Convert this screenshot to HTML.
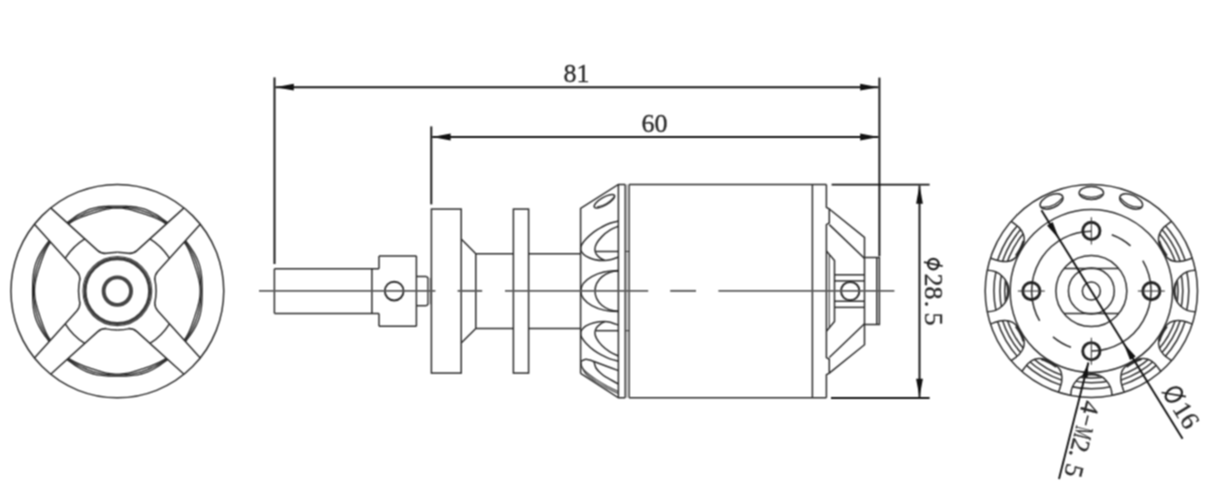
<!DOCTYPE html>
<html lang="en">
<head>
<meta charset="utf-8">
<title>Motor outline drawing</title>
<style>
html,body{margin:0;padding:0;background:#fff;}
body{width:1223px;height:501px;overflow:hidden;font-family:"Liberation Serif",serif;}
svg{display:block;}
.s{fill:none;stroke:#2b2b2b;stroke-width:1.5;stroke-linecap:butt;stroke-linejoin:miter;}
.t{fill:none;stroke:#3a3a3a;stroke-width:1.1;}
.k{fill:none;stroke:#2a2a2a;stroke-width:2.5;}
.w{fill:#fff;stroke:none;}
.c{fill:none;stroke:#5a5a5a;stroke-width:1.9;}
.d{fill:none;stroke:#141414;stroke-width:1.95;}
.a{fill:#111;stroke:none;}
.g{fill:#b8b8b8;stroke:none;}
text{font-family:"Liberation Serif",serif;font-size:26px;fill:#2a2a2a;stroke:#2a2a2a;stroke-width:0.35;}
</style>
</head>
<body>
<svg width="1223" height="501" viewBox="0 0 1223 501">
<defs><filter id="soft" x="0" y="0" width="100%" height="100%" color-interpolation-filters="sRGB"><feConvolveMatrix order="3" kernelMatrix="1 2 1 2 4 2 1 2 1" divisor="16" edgeMode="duplicate" preserveAlpha="false"/></filter></defs>
<g filter="url(#soft)">
<rect x="0" y="0" width="1223" height="501" fill="#ffffff"/>
<g id="left-view" transform="translate(0,-0.87) scale(1,1.003)">
<path class="t" d="M202.12,291.1 C202.12,292.58 202.11,294.06 202.08,295.54 C202.06,297.02 202.03,298.51 201.97,299.99 C201.9,301.48 201.83,302.97 201.7,304.46 C201.58,305.95 201.43,307.44 201.21,308.92 C200.99,310.41 200.74,311.89 200.41,313.35 C200.08,314.82 199.69,316.28 199.23,317.71 C198.78,319.14 198.26,320.55 197.68,321.93 C197.1,323.32 196.45,324.68 195.76,326.01 C195.07,327.34 194.32,328.64 193.55,329.92 C192.77,331.2 191.95,332.45 191.12,333.69 C190.29,334.93 189.43,336.14 188.56,337.35 C187.7,338.55 186.82,339.75 185.93,340.93 C185.05,342.11 184.16,343.3 183.23,344.44 C182.29,345.59 181.33,346.72 180.34,347.82 C179.35,348.92 178.33,349.99 177.29,351.04 C176.24,352.08 175.17,353.1 174.07,354.09 C172.97,355.08 171.84,356.04 170.69,356.98 C169.55,357.91 168.36,358.8 167.18,359.68 C166,360.57 164.8,361.45 163.6,362.31 C162.39,363.18 161.18,364.04 159.94,364.87 C158.7,365.7 157.45,366.52 156.17,367.3 C154.89,368.07 153.59,368.82 152.26,369.51 C150.93,370.2 149.57,370.85 148.18,371.43 C146.8,372.01 145.39,372.53 143.96,372.98 C142.53,373.44 141.07,373.83 139.6,374.16 C138.14,374.49 136.66,374.74 135.17,374.96 C133.69,375.18 132.2,375.33 130.71,375.45 C129.22,375.58 127.73,375.65 126.24,375.72 C124.76,375.78 123.27,375.81 121.79,375.83 C120.31,375.86 118.83,375.87 117.35,375.87 C115.87,375.87 114.39,375.86 112.91,375.83 C111.43,375.81 109.94,375.78 108.46,375.72 C106.97,375.65 105.48,375.58 103.99,375.45 C102.5,375.33 101.01,375.18 99.53,374.96 C98.04,374.74 96.56,374.49 95.1,374.16 C93.63,373.83 92.17,373.44 90.74,372.98 C89.31,372.53 87.9,372.01 86.52,371.43 C85.13,370.85 83.77,370.2 82.44,369.51 C81.11,368.82 79.81,368.07 78.53,367.3 C77.25,366.52 76,365.7 74.76,364.87 C73.52,364.04 72.31,363.18 71.1,362.31 C69.9,361.45 68.7,360.57 67.52,359.68 C66.34,358.8 65.15,357.91 64.01,356.98 C62.86,356.04 61.73,355.08 60.63,354.09 C59.53,353.1 58.46,352.08 57.41,351.04 C56.37,349.99 55.35,348.92 54.36,347.82 C53.37,346.72 52.41,345.59 51.47,344.44 C50.54,343.3 49.65,342.11 48.77,340.93 C47.88,339.75 47,338.55 46.14,337.35 C45.27,336.14 44.41,334.93 43.58,333.69 C42.75,332.45 41.93,331.2 41.15,329.92 C40.38,328.64 39.63,327.34 38.94,326.01 C38.25,324.68 37.6,323.32 37.02,321.93 C36.44,320.55 35.92,319.14 35.47,317.71 C35.01,316.28 34.62,314.82 34.29,313.35 C33.96,311.89 33.71,310.41 33.49,308.92 C33.27,307.44 33.12,305.95 33,304.46 C32.87,302.97 32.8,301.48 32.73,299.99 C32.67,298.51 32.64,297.02 32.62,295.54 C32.59,294.06 32.58,292.58 32.58,291.1 C32.58,289.62 32.59,288.14 32.62,286.66 C32.64,285.18 32.67,283.69 32.73,282.21 C32.8,280.72 32.87,279.23 33,277.74 C33.12,276.25 33.27,274.76 33.49,273.28 C33.71,271.79 33.96,270.31 34.29,268.85 C34.62,267.38 35.01,265.92 35.47,264.49 C35.92,263.06 36.44,261.65 37.02,260.27 C37.6,258.88 38.25,257.52 38.94,256.19 C39.63,254.86 40.38,253.56 41.15,252.28 C41.93,251 42.75,249.75 43.58,248.51 C44.41,247.27 45.27,246.06 46.14,244.85 C47,243.65 47.88,242.45 48.77,241.27 C49.65,240.09 50.54,238.9 51.47,237.76 C52.41,236.61 53.37,235.48 54.36,234.38 C55.35,233.28 56.37,232.21 57.41,231.16 C58.46,230.12 59.53,229.1 60.63,228.11 C61.73,227.12 62.86,226.16 64.01,225.22 C65.15,224.29 66.34,223.4 67.52,222.52 C68.7,221.63 69.9,220.75 71.1,219.89 C72.31,219.02 73.52,218.16 74.76,217.33 C76,216.5 77.25,215.68 78.53,214.9 C79.81,214.13 81.11,213.38 82.44,212.69 C83.77,212 85.13,211.35 86.52,210.77 C87.9,210.19 89.31,209.67 90.74,209.22 C92.17,208.76 93.63,208.37 95.1,208.04 C96.56,207.71 98.04,207.46 99.53,207.24 C101.01,207.02 102.5,206.87 103.99,206.75 C105.48,206.62 106.97,206.55 108.46,206.48 C109.94,206.42 111.43,206.39 112.91,206.37 C114.39,206.34 115.87,206.33 117.35,206.33 C118.83,206.33 120.31,206.34 121.79,206.37 C123.27,206.39 124.76,206.42 126.24,206.48 C127.73,206.55 129.22,206.62 130.71,206.75 C132.2,206.87 133.69,207.02 135.17,207.24 C136.66,207.46 138.14,207.71 139.6,208.04 C141.07,208.37 142.53,208.76 143.96,209.22 C145.39,209.67 146.8,210.19 148.18,210.77 C149.57,211.35 150.93,212 152.26,212.69 C153.59,213.38 154.89,214.13 156.17,214.9 C157.45,215.68 158.7,216.5 159.94,217.33 C161.18,218.16 162.39,219.02 163.6,219.89 C164.8,220.75 166,221.63 167.18,222.52 C168.36,223.4 169.55,224.29 170.69,225.22 C171.84,226.16 172.97,227.12 174.07,228.11 C175.17,229.1 176.24,230.12 177.29,231.16 C178.33,232.21 179.35,233.28 180.34,234.38 C181.33,235.48 182.29,236.61 183.23,237.76 C184.16,238.9 185.05,240.09 185.93,241.27 C186.82,242.45 187.7,243.65 188.56,244.85 C189.43,246.06 190.29,247.27 191.12,248.51 C191.95,249.75 192.77,251 193.55,252.28 C194.32,253.56 195.07,254.86 195.76,256.19 C196.45,257.52 197.1,258.88 197.68,260.27 C198.26,261.65 198.78,263.06 199.23,264.49 C199.69,265.92 200.08,267.38 200.41,268.85 C200.74,270.31 200.99,271.79 201.21,273.28 C201.43,274.76 201.58,276.25 201.7,277.74 C201.83,279.23 201.9,280.72 201.97,282.21 C202.03,283.69 202.06,285.18 202.08,286.66 C202.11,288.14 202.12,289.62 202.12,291.1Z" style="stroke-width:1.3;stroke:#262626"/>
<path class="t" d="M201.15,291.1 C201.15,292.56 201.11,294.03 201.04,295.49 C200.96,296.95 200.84,298.41 200.69,299.86 C200.54,301.31 200.35,302.77 200.12,304.21 C199.89,305.65 199.62,307.09 199.32,308.52 C199.01,309.95 198.67,311.38 198.29,312.79 C197.92,314.2 197.5,315.61 197.05,317 C196.6,318.39 196.11,319.77 195.58,321.13 C195.06,322.5 194.5,323.85 193.91,325.18 C193.31,326.52 192.68,327.84 192.02,329.14 C191.35,330.45 190.65,331.73 189.92,333 C189.19,334.27 188.43,335.51 187.63,336.74 C186.83,337.97 186,339.17 185.15,340.36 C184.29,341.54 183.39,342.7 182.47,343.84 C181.55,344.97 180.6,346.09 179.63,347.17 C178.65,348.26 177.64,349.32 176.61,350.36 C175.57,351.39 174.51,352.4 173.42,353.38 C172.34,354.35 171.22,355.3 170.09,356.22 C168.95,357.14 167.79,358.04 166.61,358.9 C165.42,359.75 164.22,360.58 162.99,361.38 C161.76,362.18 160.52,362.94 159.25,363.67 C157.98,364.4 156.7,365.1 155.39,365.77 C154.09,366.43 152.77,367.06 151.43,367.66 C150.1,368.25 148.75,368.81 147.38,369.33 C146.02,369.86 144.64,370.35 143.25,370.8 C141.86,371.25 140.45,371.67 139.04,372.04 C137.63,372.42 136.2,372.76 134.77,373.07 C133.34,373.37 131.9,373.64 130.46,373.87 C129.02,374.1 127.56,374.29 126.11,374.44 C124.66,374.59 123.2,374.71 121.74,374.79 C120.28,374.86 118.81,374.9 117.35,374.9 C115.89,374.9 114.42,374.86 112.96,374.79 C111.5,374.71 110.04,374.59 108.59,374.44 C107.14,374.29 105.68,374.1 104.24,373.87 C102.8,373.64 101.36,373.37 99.93,373.07 C98.5,372.76 97.07,372.42 95.66,372.04 C94.25,371.67 92.84,371.25 91.45,370.8 C90.06,370.35 88.68,369.86 87.32,369.33 C85.95,368.81 84.6,368.25 83.27,367.66 C81.93,367.06 80.61,366.43 79.31,365.77 C78,365.1 76.72,364.4 75.45,363.67 C74.18,362.94 72.94,362.18 71.71,361.38 C70.48,360.58 69.28,359.75 68.09,358.9 C66.91,358.04 65.75,357.14 64.61,356.22 C63.48,355.3 62.36,354.35 61.28,353.38 C60.19,352.4 59.13,351.39 58.09,350.36 C57.06,349.32 56.05,348.26 55.07,347.17 C54.1,346.09 53.15,344.97 52.23,343.84 C51.31,342.7 50.41,341.54 49.55,340.36 C48.7,339.17 47.87,337.97 47.07,336.74 C46.27,335.51 45.51,334.27 44.78,333 C44.05,331.73 43.35,330.45 42.68,329.14 C42.02,327.84 41.39,326.52 40.79,325.18 C40.2,323.85 39.64,322.5 39.12,321.13 C38.59,319.77 38.1,318.39 37.65,317 C37.2,315.61 36.78,314.2 36.41,312.79 C36.03,311.38 35.69,309.95 35.38,308.52 C35.08,307.09 34.81,305.65 34.58,304.21 C34.35,302.77 34.16,301.31 34.01,299.86 C33.86,298.41 33.74,296.95 33.66,295.49 C33.59,294.03 33.55,292.56 33.55,291.1 C33.55,289.64 33.59,288.17 33.66,286.71 C33.74,285.25 33.86,283.79 34.01,282.34 C34.16,280.89 34.35,279.43 34.58,277.99 C34.81,276.55 35.08,275.11 35.38,273.68 C35.69,272.25 36.03,270.82 36.41,269.41 C36.78,268 37.2,266.59 37.65,265.2 C38.1,263.81 38.59,262.43 39.12,261.07 C39.64,259.7 40.2,258.35 40.79,257.02 C41.39,255.68 42.02,254.36 42.68,253.06 C43.35,251.75 44.05,250.47 44.78,249.2 C45.51,247.93 46.27,246.69 47.07,245.46 C47.87,244.23 48.7,243.03 49.55,241.84 C50.41,240.66 51.31,239.5 52.23,238.36 C53.15,237.23 54.1,236.11 55.07,235.03 C56.05,233.94 57.06,232.88 58.09,231.84 C59.13,230.81 60.19,229.8 61.28,228.82 C62.36,227.85 63.48,226.9 64.61,225.98 C65.75,225.06 66.91,224.16 68.09,223.3 C69.28,222.45 70.48,221.62 71.71,220.82 C72.94,220.02 74.18,219.26 75.45,218.53 C76.72,217.8 78,217.1 79.31,216.43 C80.61,215.77 81.93,215.14 83.27,214.54 C84.6,213.95 85.95,213.39 87.32,212.87 C88.68,212.34 90.06,211.85 91.45,211.4 C92.84,210.95 94.25,210.53 95.66,210.16 C97.07,209.78 98.5,209.44 99.93,209.13 C101.36,208.83 102.8,208.56 104.24,208.33 C105.68,208.1 107.14,207.91 108.59,207.76 C110.04,207.61 111.5,207.49 112.96,207.41 C114.42,207.34 115.89,207.3 117.35,207.3 C118.81,207.3 120.28,207.34 121.74,207.41 C123.2,207.49 124.66,207.61 126.11,207.76 C127.56,207.91 129.02,208.1 130.46,208.33 C131.9,208.56 133.34,208.83 134.77,209.13 C136.2,209.44 137.63,209.78 139.04,210.16 C140.45,210.53 141.86,210.95 143.25,211.4 C144.64,211.85 146.02,212.34 147.38,212.87 C148.75,213.39 150.1,213.95 151.43,214.54 C152.77,215.14 154.09,215.77 155.39,216.43 C156.7,217.1 157.98,217.8 159.25,218.53 C160.52,219.26 161.76,220.02 162.99,220.82 C164.22,221.62 165.42,222.45 166.61,223.3 C167.79,224.16 168.95,225.06 170.09,225.98 C171.22,226.9 172.34,227.85 173.42,228.82 C174.51,229.8 175.57,230.81 176.61,231.84 C177.64,232.88 178.65,233.94 179.63,235.03 C180.6,236.11 181.55,237.23 182.47,238.36 C183.39,239.5 184.29,240.66 185.15,241.84 C186,243.03 186.83,244.23 187.63,245.46 C188.43,246.69 189.19,247.93 189.92,249.2 C190.65,250.47 191.35,251.75 192.02,253.06 C192.68,254.36 193.31,255.68 193.91,257.02 C194.5,258.35 195.06,259.7 195.58,261.07 C196.11,262.43 196.6,263.81 197.05,265.2 C197.5,266.59 197.92,268 198.29,269.41 C198.67,270.82 199.01,272.25 199.32,273.68 C199.62,275.11 199.89,276.55 200.12,277.99 C200.35,279.43 200.54,280.89 200.69,282.34 C200.84,283.79 200.96,285.25 201.04,286.71 C201.11,288.17 201.15,289.64 201.15,291.1Z" style="stroke-width:1.3;stroke:#262626"/>
<path class="t" d="M200.18,291.1 C200.18,292.54 200.11,293.99 199.99,295.43 C199.86,296.87 199.66,298.3 199.41,299.73 C199.17,301.15 198.86,302.56 198.53,303.96 C198.2,305.36 197.82,306.74 197.43,308.12 C197.04,309.5 196.61,310.86 196.18,312.22 C195.76,313.58 195.31,314.93 194.86,316.29 C194.41,317.64 193.96,318.98 193.49,320.33 C193.02,321.67 192.55,323.02 192.05,324.36 C191.55,325.7 191.04,327.04 190.49,328.36 C189.93,329.69 189.36,331.01 188.72,332.31 C188.09,333.6 187.42,334.89 186.7,336.13 C185.97,337.38 185.19,338.6 184.36,339.78 C183.53,340.97 182.63,342.11 181.72,343.23 C180.82,344.35 179.87,345.45 178.91,346.53 C177.94,347.6 176.94,348.65 175.92,349.67 C174.9,350.69 173.85,351.69 172.78,352.66 C171.7,353.62 170.6,354.57 169.48,355.47 C168.36,356.38 167.22,357.28 166.03,358.11 C164.85,358.94 163.63,359.72 162.38,360.45 C161.14,361.17 159.85,361.84 158.56,362.47 C157.26,363.11 155.94,363.68 154.61,364.24 C153.29,364.79 151.95,365.3 150.61,365.8 C149.27,366.3 147.92,366.77 146.58,367.24 C145.23,367.71 143.89,368.16 142.54,368.61 C141.18,369.06 139.83,369.51 138.47,369.93 C137.11,370.36 135.75,370.79 134.37,371.18 C132.99,371.57 131.61,371.95 130.21,372.28 C128.81,372.61 127.4,372.92 125.98,373.16 C124.55,373.41 123.12,373.61 121.68,373.74 C120.24,373.86 118.79,373.93 117.35,373.93 C115.91,373.93 114.46,373.86 113.02,373.74 C111.58,373.61 110.15,373.41 108.72,373.16 C107.3,372.92 105.89,372.61 104.49,372.28 C103.09,371.95 101.71,371.57 100.33,371.18 C98.95,370.79 97.59,370.36 96.23,369.93 C94.87,369.51 93.52,369.06 92.16,368.61 C90.81,368.16 89.47,367.71 88.12,367.24 C86.78,366.77 85.43,366.3 84.09,365.8 C82.75,365.3 81.41,364.79 80.09,364.24 C78.76,363.68 77.44,363.11 76.14,362.47 C74.85,361.84 73.56,361.17 72.32,360.45 C71.07,359.72 69.85,358.94 68.67,358.11 C67.48,357.28 66.34,356.38 65.22,355.47 C64.1,354.57 63,353.62 61.92,352.66 C60.85,351.69 59.8,350.69 58.78,349.67 C57.76,348.65 56.76,347.6 55.79,346.53 C54.83,345.45 53.88,344.35 52.98,343.23 C52.07,342.11 51.17,340.97 50.34,339.78 C49.51,338.6 48.73,337.38 48,336.13 C47.28,334.89 46.61,333.6 45.98,332.31 C45.34,331.01 44.77,329.69 44.21,328.36 C43.66,327.04 43.15,325.7 42.65,324.36 C42.15,323.02 41.68,321.67 41.21,320.33 C40.74,318.98 40.29,317.64 39.84,316.29 C39.39,314.93 38.94,313.58 38.52,312.22 C38.09,310.86 37.66,309.5 37.27,308.12 C36.88,306.74 36.5,305.36 36.17,303.96 C35.84,302.56 35.53,301.15 35.29,299.73 C35.04,298.3 34.84,296.87 34.71,295.43 C34.59,293.99 34.52,292.54 34.52,291.1 C34.52,289.66 34.59,288.21 34.71,286.77 C34.84,285.33 35.04,283.9 35.29,282.47 C35.53,281.05 35.84,279.64 36.17,278.24 C36.5,276.84 36.88,275.46 37.27,274.08 C37.66,272.7 38.09,271.34 38.52,269.98 C38.94,268.62 39.39,267.27 39.84,265.91 C40.29,264.56 40.74,263.22 41.21,261.87 C41.68,260.53 42.15,259.18 42.65,257.84 C43.15,256.5 43.66,255.16 44.21,253.84 C44.77,252.51 45.34,251.19 45.98,249.89 C46.61,248.6 47.28,247.31 48,246.07 C48.73,244.82 49.51,243.6 50.34,242.42 C51.17,241.23 52.07,240.09 52.98,238.97 C53.88,237.85 54.83,236.75 55.79,235.67 C56.76,234.6 57.76,233.55 58.78,232.53 C59.8,231.51 60.85,230.51 61.92,229.54 C63,228.58 64.1,227.63 65.22,226.73 C66.34,225.82 67.48,224.92 68.67,224.09 C69.85,223.26 71.07,222.48 72.32,221.75 C73.56,221.03 74.85,220.36 76.14,219.73 C77.44,219.09 78.76,218.52 80.09,217.96 C81.41,217.41 82.75,216.9 84.09,216.4 C85.43,215.9 86.78,215.43 88.12,214.96 C89.47,214.49 90.81,214.04 92.16,213.59 C93.52,213.14 94.87,212.69 96.23,212.27 C97.59,211.84 98.95,211.41 100.33,211.02 C101.71,210.63 103.09,210.25 104.49,209.92 C105.89,209.59 107.3,209.28 108.72,209.04 C110.15,208.79 111.58,208.59 113.02,208.46 C114.46,208.34 115.91,208.27 117.35,208.27 C118.79,208.27 120.24,208.34 121.68,208.46 C123.12,208.59 124.55,208.79 125.98,209.04 C127.4,209.28 128.81,209.59 130.21,209.92 C131.61,210.25 132.99,210.63 134.37,211.02 C135.75,211.41 137.11,211.84 138.47,212.27 C139.83,212.69 141.18,213.14 142.54,213.59 C143.89,214.04 145.23,214.49 146.58,214.96 C147.92,215.43 149.27,215.9 150.61,216.4 C151.95,216.9 153.29,217.41 154.61,217.96 C155.94,218.52 157.26,219.09 158.56,219.73 C159.85,220.36 161.14,221.03 162.38,221.75 C163.63,222.48 164.85,223.26 166.03,224.09 C167.22,224.92 168.36,225.82 169.48,226.73 C170.6,227.63 171.7,228.58 172.78,229.54 C173.85,230.51 174.9,231.51 175.92,232.53 C176.94,233.55 177.94,234.6 178.91,235.67 C179.87,236.75 180.82,237.85 181.72,238.97 C182.63,240.09 183.53,241.23 184.36,242.42 C185.19,243.6 185.97,244.82 186.7,246.07 C187.42,247.31 188.09,248.6 188.72,249.89 C189.36,251.19 189.93,252.51 190.49,253.84 C191.04,255.16 191.55,256.5 192.05,257.84 C192.55,259.18 193.02,260.53 193.49,261.87 C193.96,263.22 194.41,264.56 194.86,265.91 C195.31,267.27 195.76,268.62 196.18,269.98 C196.61,271.34 197.04,272.7 197.43,274.08 C197.82,275.46 198.2,276.84 198.53,278.24 C198.86,279.64 199.17,281.05 199.41,282.47 C199.66,283.9 199.86,285.33 199.99,286.77 C200.11,288.21 200.18,289.66 200.18,291.1Z" style="stroke-width:1.3;stroke:#262626"/>
<path class="w" d="M152.07,304.46 L200.51,357.99 L184.24,374.26 L130.71,325.82Z"/>
<path class="w" d="M103.99,325.82 L50.46,374.26 L34.19,357.99 L82.63,304.46Z"/>
<path class="w" d="M82.63,277.74 L34.19,224.21 L50.46,207.94 L103.99,256.38Z"/>
<path class="w" d="M130.71,256.38 L184.24,207.94 L200.51,224.21 L152.07,277.74Z"/>
<path class="s" d="M184.04,374.03 L136.94,331.45 Q133.67,328.5 128.47,328.5 L130.05,328.5 Q123.7,329.76 117.35,329.9"/>
<path class="s" d="M200.28,357.79 L157.7,310.69 Q154.75,307.42 154.75,302.22 L154.75,303.8 Q156.01,297.45 156.15,291.1"/>
<path class="s" d="M169.46,323.7 A61.47,61.47 0 0 1 149.95,343.21"/>
<path class="s" d="M34.42,357.79 L77,310.69 Q79.95,307.42 79.95,302.22 L79.95,303.8 Q78.69,297.45 78.55,291.1"/>
<path class="s" d="M50.66,374.03 L97.76,331.45 Q101.03,328.5 106.23,328.5 L104.65,328.5 Q111,329.76 117.35,329.9"/>
<path class="s" d="M84.75,343.21 A61.47,61.47 0 0 1 65.24,323.7"/>
<path class="s" d="M50.66,208.17 L97.76,250.75 Q101.03,253.7 106.23,253.7 L104.65,253.7 Q111,252.44 117.35,252.3"/>
<path class="s" d="M34.42,224.41 L77,271.51 Q79.95,274.78 79.95,279.98 L79.95,278.4 Q78.69,284.75 78.55,291.1"/>
<path class="s" d="M65.24,258.5 A61.47,61.47 0 0 1 84.75,238.99"/>
<path class="s" d="M200.28,224.41 L157.7,271.51 Q154.75,274.78 154.75,279.98 L154.75,278.4 Q156.01,284.75 156.15,291.1"/>
<path class="s" d="M184.04,208.17 L136.94,250.75 Q133.67,253.7 128.47,253.7 L130.05,253.7 Q123.7,252.44 117.35,252.3"/>
<path class="s" d="M149.95,238.99 A61.47,61.47 0 0 1 169.46,258.5"/>
<circle class="t" cx="117.35" cy="291.1" r="34.4"/>
<circle class="k" cx="117.35" cy="291.1" r="32.3" style="stroke-width:3.0;stroke:#3a3a3a"/>
<circle class="k" cx="117.35" cy="291.1" r="13.7" style="stroke-width:3.9;stroke:#444"/>
<circle class="s" cx="117.35" cy="291.1" r="106.4"/>
</g>
<g id="side-view">
<line class="s" x1="274.4" y1="268.78" x2="379" y2="268.78"/>
<line class="s" x1="274.4" y1="313.38" x2="379" y2="313.38"/>
<line class="s" x1="274.4" y1="268.78" x2="274.4" y2="313.38"/>
<line class="s" x1="371.9" y1="268.78" x2="371.9" y2="313.38"/>
<line class="s" x1="379" y1="255.88" x2="379" y2="268.78"/>
<line class="s" x1="379" y1="313.38" x2="379" y2="326.28"/>
<line class="s" x1="379" y1="255.88" x2="416.4" y2="255.88"/>
<line class="s" x1="379" y1="326.28" x2="416.4" y2="326.28"/>
<line class="s" x1="416.4" y1="255.88" x2="416.4" y2="326.28"/>
<circle class="k" cx="394.2" cy="291.08" r="9.4" style="stroke-width:1.9"/>
<line class="s" x1="416.4" y1="276.48" x2="426.6" y2="276.48"/>
<line class="s" x1="416.4" y1="305.68" x2="426.6" y2="305.68"/>
<path class="s" d="M426.6,276.48 L428.2,278.48"/>
<path class="s" d="M426.6,305.68 L428.2,303.68"/>
<rect class="g" x="427.6" y="277.98" width="3.6" height="26.2"/>
<line class="t" x1="427.7" y1="277.48" x2="427.7" y2="304.68"/>
<rect class="s" x="431.4" y="209.08" width="29.8" height="164"/>
<path class="s" d="M461.2,239.08 L475.8,253.68"/>
<path class="s" d="M461.2,343.08 L475.8,328.48"/>
<line class="s" x1="475.8" y1="253.68" x2="475.8" y2="328.48"/>
<line class="s" x1="475.8" y1="253.68" x2="513.4" y2="253.68"/>
<line class="s" x1="475.8" y1="328.48" x2="513.4" y2="328.48"/>
<rect class="s" x="513.4" y="209.08" width="15.2" height="164"/>
<line class="s" x1="528.6" y1="253.68" x2="580.6" y2="253.68"/>
<line class="s" x1="528.6" y1="328.48" x2="580.6" y2="328.48"/>
<path class="s" d="M580.6,373.38 L580.6,208.48 L618.4,184.38 L625.2,184.38"/>
<path class="s" d="M580.6,373.38 L618.4,397.78 L625.2,397.78"/>
<line class="s" x1="618.4" y1="184.38" x2="618.4" y2="397.78"/>
<line class="s" x1="625.2" y1="184.38" x2="625.2" y2="397.78"/>
<line class="s" x1="629.1" y1="184.38" x2="629.1" y2="397.78"/>
<rect class="g" x="625.8" y="184.38" width="2.7" height="213.4" style="fill:#c4c4c4"/>
<line class="t" x1="625.2" y1="251.48" x2="629.1" y2="251.48"/>
<line class="t" x1="625.2" y1="330.68" x2="629.1" y2="330.68"/>
<path class="s" d="M618.4,270.58 A37.6,20.5 0 0 0 618.4,311.58"/>
<path class="s" d="M618.4,270.98 A23.4,20.1 0 0 0 618.4,311.18"/>
<path class="s" d="M618.4,221.1 C616.98,221.47 612.65,222.32 609.9,223.3 C607.15,224.28 604.55,225.58 601.9,227 C599.25,228.42 596.65,229.8 594,231.8 C591.35,233.8 588.03,236.88 586,239 C583.97,241.12 582.68,243.02 581.8,244.5 C580.92,245.98 580.77,246.7 580.7,247.9 C580.63,249.1 580.52,250.32 581.4,251.7 C582.28,253.08 583.9,254.92 586,256.2 C588.1,257.48 590.95,258.67 594,259.4 C597.05,260.13 601.38,260.58 604.3,260.6 C607.22,260.62 609.15,260.1 611.5,259.5 C613.85,258.9 617.25,257.42 618.4,257"/>
<path class="s" d="M618.4,226.2 C616.98,226.87 612.65,228.47 609.9,230.2 C607.15,231.93 604.13,234.35 601.9,236.6 C599.67,238.85 597.67,241.58 596.5,243.7 C595.33,245.82 594.93,247.57 594.9,249.3 C594.87,251.03 595.4,252.63 596.3,254.1 C597.2,255.57 598.92,257.05 600.3,258.1 C601.68,259.15 603.88,260.02 604.6,260.4"/>
<line class="s" x1="595.2" y1="251.48" x2="618.4" y2="251.48"/>
<path class="s" d="M618.4,361.06 C616.98,360.69 612.65,359.84 609.9,358.86 C607.15,357.88 604.55,356.58 601.9,355.16 C599.25,353.74 596.65,352.36 594,350.36 C591.35,348.36 588.03,345.28 586,343.16 C583.97,341.04 582.68,339.14 581.8,337.66 C580.92,336.18 580.77,335.46 580.7,334.26 C580.63,333.06 580.52,331.84 581.4,330.46 C582.28,329.08 583.9,327.24 586,325.96 C588.1,324.68 590.95,323.49 594,322.76 C597.05,322.03 601.38,321.58 604.3,321.56 C607.22,321.54 609.15,322.06 611.5,322.66 C613.85,323.26 617.25,324.74 618.4,325.16"/>
<path class="s" d="M618.4,355.96 C616.98,355.29 612.65,353.69 609.9,351.96 C607.15,350.23 604.13,347.81 601.9,345.56 C599.67,343.31 597.67,340.58 596.5,338.46 C595.33,336.34 594.93,334.59 594.9,332.86 C594.87,331.13 595.4,329.53 596.3,328.06 C597.2,326.59 598.92,325.11 600.3,324.06 C601.68,323.01 603.88,322.14 604.6,321.76"/>
<line class="s" x1="595.2" y1="330.68" x2="618.4" y2="330.68"/>
<g transform="translate(604.4,201.2) rotate(-30)"><ellipse class="s" cx="0" cy="0" rx="11.6" ry="3.9"/><path class="t" d="M-9.5,1.2 Q0,5.2 10.6,1.0"/></g>
<path class="s" d="M581,361.2 C581.67,360.9 583.58,359.62 585,359.4 C586.42,359.18 588,359.55 589.5,359.9 C591,360.25 591.27,360.48 594,361.5 C596.73,362.52 601.83,364.48 605.9,366 C609.97,367.52 616.32,369.83 618.4,370.6"/>
<path class="s" d="M594,361.8 C594.33,362.83 594.92,366.13 596,368 C597.08,369.87 598.83,371.47 600.5,373 C602.17,374.53 603.02,375.37 606,377.2 C608.98,379.03 616.33,382.87 618.4,384"/>
<path class="t" d="M581,361.2 C581.17,362.17 581.17,365.2 582,367 C582.83,368.8 583.67,369.93 586,372 C588.33,374.07 592.67,377.17 596,379.4 C599.33,381.63 602.27,383.37 606,385.4 C609.73,387.43 616.33,390.57 618.4,391.6"/>
<path class="t" d="M581.6,366.5 C582.33,367.75 583.6,371.52 586,374 C588.4,376.48 592.67,379.17 596,381.4 C599.33,383.63 602.27,385.37 606,387.4 C609.73,389.43 616.33,392.57 618.4,393.6"/>
<line class="s" x1="629.1" y1="184.38" x2="826.4" y2="184.38"/>
<line class="s" x1="629.1" y1="397.78" x2="826.4" y2="397.78"/>
<line class="s" x1="812.4" y1="184.38" x2="812.4" y2="397.78"/>
<path class="s" d="M826.4,184.38 L826.4,207.4 L829.3,209 L829.3,222.9 L826.4,224.6 L826.4,291.08"/>
<path class="s" d="M826.4,397.78 L826.4,374.76 L829.3,373.16 L829.3,359.26 L826.4,357.56 L826.4,291.08"/>
<path class="s" d="M829.3,209 L864.5,237.4 L864.5,291.08"/>
<path class="s" d="M829.3,373.16 L864.5,344.76 L864.5,291.08"/>
<path class="s" d="M829.3,224.6 L864.5,258.4"/>
<path class="s" d="M829.3,357.56 L864.5,323.76"/>
<path class="s" d="M864.5,257.6 L879.4,257.6 L879.4,291.08"/>
<path class="s" d="M864.5,324.56 L879.4,324.56 L879.4,291.08"/>
<path class="s" d="M876.8,257.6 L876.8,291.08"/>
<path class="s" d="M876.8,324.56 L876.8,291.08"/>
<path class="s" d="M826.4,250.9 L834.5,260.6 L834.5,291.08"/>
<path class="s" d="M826.4,331.26 L834.5,321.56 L834.5,291.08"/>
<path class="t" d="M829.2,254.4 L829.2,291.08"/>
<path class="t" d="M829.2,327.76 L829.2,291.08"/>
<path class="s" d="M834.5,274.8 L864.5,274.8"/>
<path class="s" d="M834.5,307.36 L864.5,307.36"/>
<path class="s" d="M834.5,280.9 L864.5,280.9"/>
<path class="s" d="M834.5,301.26 L864.5,301.26"/>
<circle class="s" cx="850.2" cy="291.08" r="9.2" style="stroke-width:2.0"/>
<line class="c" x1="259" y1="290.88" x2="435.4" y2="290.88"/>
<line class="c" x1="457.6" y1="290.88" x2="482.2" y2="290.88"/>
<line class="c" x1="505" y1="290.88" x2="648.2" y2="290.88"/>
<line class="c" x1="670.2" y1="290.88" x2="696" y2="290.88"/>
<line class="c" x1="718.4" y1="290.88" x2="894.4" y2="290.88"/>
</g>
<g id="right-view" transform="translate(0,-0.87) scale(1,1.003)">
<defs><clipPath id="cp1"><path d="M1195.48,270.43 A21.6,20.6 0 0 0 1195.48,311.67 A106.15,106.15 0 0 0 1195.48,270.43 Z"/></clipPath><clipPath id="cp2"><path d="M1171.77,360.71 C1170.41,359.64 1165.65,356.45 1163.58,354.28 C1161.51,352.12 1160.14,350.07 1159.34,347.7 C1158.55,345.33 1158.29,342.8 1158.82,340.07 C1159.36,337.34 1161.1,333.98 1162.55,331.33 C1163.99,328.68 1165.72,325.85 1167.47,324.15 C1169.21,322.44 1170.64,321.66 1173,321.09 C1175.35,320.52 1178.34,320.25 1181.6,320.72 C1184.85,321.19 1190.72,323.39 1192.54,323.93 L1171.77,360.71 Z"/></clipPath><clipPath id="cp3"><path d="M1171.77,221.39 C1170.41,222.46 1165.65,225.65 1163.58,227.82 C1161.51,229.98 1160.14,232.03 1159.34,234.4 C1158.55,236.77 1158.29,239.3 1158.82,242.03 C1159.36,244.76 1161.1,248.12 1162.55,250.77 C1163.99,253.42 1165.72,256.25 1167.47,257.95 C1169.21,259.66 1170.64,260.44 1173,261.01 C1175.35,261.58 1178.34,261.85 1181.6,261.38 C1184.85,260.91 1190.72,258.71 1192.54,258.17 L1171.77,221.39 Z"/></clipPath><clipPath id="cp4"><path d="M1111.97,395.18 A21.6,20.6 90 0 0 1070.73,395.18 A106.15,106.15 0 0 0 1111.97,395.18 Z"/></clipPath><clipPath id="cp5"><path d="M1021.69,371.47 C1022.76,370.11 1025.95,365.35 1028.12,363.28 C1030.28,361.21 1032.33,359.84 1034.7,359.04 C1037.07,358.25 1039.6,357.99 1042.33,358.52 C1045.06,359.06 1048.42,360.8 1051.07,362.25 C1053.72,363.69 1056.55,365.42 1058.25,367.17 C1059.96,368.91 1060.74,370.34 1061.31,372.7 C1061.88,375.05 1062.15,378.04 1061.68,381.3 C1061.21,384.55 1059.01,390.42 1058.47,392.24 L1021.69,371.47 Z"/></clipPath><clipPath id="cp6"><path d="M1161.01,371.47 C1159.94,370.11 1156.75,365.35 1154.58,363.28 C1152.42,361.21 1150.37,359.84 1148,359.04 C1145.63,358.25 1143.1,357.99 1140.37,358.52 C1137.64,359.06 1134.28,360.8 1131.63,362.25 C1128.98,363.69 1126.15,365.42 1124.45,367.17 C1122.74,368.91 1121.96,370.34 1121.39,372.7 C1120.82,375.05 1120.55,378.04 1121.02,381.3 C1121.49,384.55 1123.69,390.42 1124.23,392.24 L1161.01,371.47 Z"/></clipPath><clipPath id="cp7"><path d="M987.22,311.67 A21.6,20.6 180 0 0 987.22,270.43 A106.15,106.15 0 0 0 987.22,311.67 Z"/></clipPath><clipPath id="cp8"><path d="M1010.93,221.39 C1012.29,222.46 1017.05,225.65 1019.12,227.82 C1021.19,229.98 1022.56,232.03 1023.36,234.4 C1024.15,236.77 1024.41,239.3 1023.88,242.03 C1023.34,244.76 1021.6,248.12 1020.15,250.77 C1018.71,253.42 1016.98,256.25 1015.23,257.95 C1013.49,259.66 1012.06,260.44 1009.7,261.01 C1007.35,261.58 1004.36,261.85 1001.1,261.38 C997.85,260.91 991.98,258.71 990.16,258.17 L1010.93,221.39 Z"/></clipPath><clipPath id="cp9"><path d="M1010.93,360.71 C1012.29,359.64 1017.05,356.45 1019.12,354.28 C1021.19,352.12 1022.56,350.07 1023.36,347.7 C1024.15,345.33 1024.41,342.8 1023.88,340.07 C1023.34,337.34 1021.6,333.98 1020.15,331.33 C1018.71,328.68 1016.98,325.85 1015.23,324.15 C1013.49,322.44 1012.06,321.66 1009.7,321.09 C1007.35,320.52 1004.36,320.25 1001.1,320.72 C997.85,321.19 991.98,323.39 990.16,323.93 L1010.93,360.71 Z"/></clipPath></defs>
<circle class="s" cx="1091.35" cy="291.05" r="106.15"/>
<circle class="s" cx="1091.35" cy="291.05" r="81.2"/>
<circle class="s" cx="1091.35" cy="291.05" r="35.45"/>
<circle class="s" cx="1091.35" cy="291.05" r="22.9"/>
<circle class="s" cx="1091.35" cy="291.05" r="9"/>
<line class="s" x1="1063.87" y1="268.65" x2="1118.83" y2="268.65"/>
<line class="s" x1="1063.87" y1="313.45" x2="1118.83" y2="313.45"/>
<path class="s" d="M1142.79,260.75 A59.7,59.7 0 0 1 1091.35,350.75"/>
<path class="s" d="M1070.93,347.15 A59.7,59.7 0 0 1 1052.98,336.78"/>
<path class="s" d="M1039.65,320.9 A59.7,59.7 0 0 1 1091.35,231.35"/>
<path class="s" d="M1111.77,234.95 A59.7,59.7 0 0 1 1130.52,245.99"/>
<circle class="k" cx="1151.35" cy="291.05" r="8.6" style="stroke-width:2.9;stroke:#222"/>
<line class="t" x1="1137.85" y1="291.05" x2="1164.85" y2="291.05"/>
<circle class="k" cx="1091.35" cy="351.05" r="8.6" style="stroke-width:2.9;stroke:#222"/>
<line class="t" x1="1091.35" y1="337.55" x2="1091.35" y2="364.55"/>
<circle class="k" cx="1031.35" cy="291.05" r="8.6" style="stroke-width:2.9;stroke:#222"/>
<line class="t" x1="1044.85" y1="291.05" x2="1017.85" y2="291.05"/>
<circle class="k" cx="1091.35" cy="231.05" r="8.6" style="stroke-width:2.9;stroke:#222"/>
<line class="t" x1="1091.35" y1="244.55" x2="1091.35" y2="217.55"/>
<g transform="translate(1051.57,201.71) rotate(-24)"><ellipse class="s" cx="0" cy="0" rx="12.2" ry="6.4"/><path class="s" d="M-11.2,1.2 Q0,7.4 11.2,1.2" style="stroke-width:1.2"/></g>
<g transform="translate(1091.35,193.25) rotate(0)"><ellipse class="s" cx="0" cy="0" rx="12.2" ry="6.4"/><path class="s" d="M-11.2,1.2 Q0,7.4 11.2,1.2" style="stroke-width:1.2"/></g>
<g transform="translate(1131.13,201.71) rotate(24)"><ellipse class="s" cx="0" cy="0" rx="12.2" ry="6.4"/><path class="s" d="M-11.2,1.2 Q0,7.4 11.2,1.2" style="stroke-width:1.2"/></g>
<path class="s" d="M1195.48,270.43 A21.6,20.6 0 0 0 1195.48,311.67"/>
<g clip-path="url(#cp1)">
<path class="s" d="M1186.25,269.14 A97.4,97.4 0 0 1 1186.25,312.96"/>
<path class="s" d="M1180.41,270.49 A91.4,91.4 0 0 1 1180.41,311.61"/>
<path class="s" d="M1175.73,271.57 A86.6,86.6 0 0 1 1175.73,310.53"/>
</g>
<path class="k" d="M1175.97,283.05 Q1173.35,291.05 1175.97,299.05" style="stroke-width:2.0"/>
<path class="s" d="M1171.77,360.71 C1170.41,359.64 1165.65,356.45 1163.58,354.28 C1161.51,352.12 1160.14,350.07 1159.34,347.7 C1158.55,345.33 1158.29,342.8 1158.82,340.07 C1159.36,337.34 1161.1,333.98 1162.55,331.33 C1163.99,328.68 1165.72,325.85 1167.47,324.15 C1169.21,322.44 1170.64,321.66 1173,321.09 C1175.35,320.52 1178.34,320.25 1181.6,320.72 C1184.85,321.19 1190.72,323.39 1192.54,323.93"/>
<g clip-path="url(#cp2)">
<path class="s" d="M1185.64,319.88 A98.6,98.6 0 0 1 1163.46,358.3"/>
<path class="s" d="M1180.86,318.42 A93.6,93.6 0 0 1 1159.8,354.89"/>
<path class="s" d="M1176.37,317.04 A88.9,88.9 0 0 1 1156.37,351.68"/>
</g>
<path class="k" d="M1159.03,341.13 C1159.34,340.31 1160.13,337.88 1160.88,336.2 C1161.62,334.52 1162.53,332.71 1163.51,331.05 C1164.49,329.38 1166.21,327.02 1166.75,326.21" style="stroke-width:2.4"/>
<path class="s" d="M1171.77,221.39 C1170.41,222.46 1165.65,225.65 1163.58,227.82 C1161.51,229.98 1160.14,232.03 1159.34,234.4 C1158.55,236.77 1158.29,239.3 1158.82,242.03 C1159.36,244.76 1161.1,248.12 1162.55,250.77 C1163.99,253.42 1165.72,256.25 1167.47,257.95 C1169.21,259.66 1170.64,260.44 1173,261.01 C1175.35,261.58 1178.34,261.85 1181.6,261.38 C1184.85,260.91 1190.72,258.71 1192.54,258.17"/>
<g clip-path="url(#cp3)">
<path class="s" d="M1185.64,262.22 A98.6,98.6 0 0 0 1163.46,223.8"/>
<path class="s" d="M1180.86,263.68 A93.6,93.6 0 0 0 1159.8,227.21"/>
<path class="s" d="M1176.37,265.06 A88.9,88.9 0 0 0 1156.37,230.42"/>
</g>
<path class="k" d="M1159.03,240.97 C1159.34,241.79 1160.13,244.22 1160.88,245.9 C1161.62,247.58 1162.53,249.39 1163.51,251.05 C1164.49,252.72 1166.21,255.08 1166.75,255.89" style="stroke-width:2.4"/>
<path class="s" d="M1111.97,395.18 A21.6,20.6 90 0 0 1070.73,395.18"/>
<g clip-path="url(#cp4)">
<path class="s" d="M1113.26,385.95 A97.4,97.4 0 0 1 1069.44,385.95"/>
<path class="s" d="M1111.91,380.11 A91.4,91.4 0 0 1 1070.79,380.11"/>
<path class="s" d="M1110.83,375.43 A86.6,86.6 0 0 1 1071.87,375.43"/>
</g>
<path class="k" d="M1099.35,375.67 Q1091.35,373.05 1083.35,375.67" style="stroke-width:2.0"/>
<path class="s" d="M1021.69,371.47 C1022.76,370.11 1025.95,365.35 1028.12,363.28 C1030.28,361.21 1032.33,359.84 1034.7,359.04 C1037.07,358.25 1039.6,357.99 1042.33,358.52 C1045.06,359.06 1048.42,360.8 1051.07,362.25 C1053.72,363.69 1056.55,365.42 1058.25,367.17 C1059.96,368.91 1060.74,370.34 1061.31,372.7 C1061.88,375.05 1062.15,378.04 1061.68,381.3 C1061.21,384.55 1059.01,390.42 1058.47,392.24"/>
<g clip-path="url(#cp5)">
<path class="s" d="M1062.52,385.34 A98.6,98.6 0 0 1 1024.1,363.16"/>
<path class="s" d="M1063.98,380.56 A93.6,93.6 0 0 1 1027.51,359.5"/>
<path class="s" d="M1065.36,376.07 A88.9,88.9 0 0 1 1030.72,356.07"/>
</g>
<path class="k" d="M1041.27,358.73 C1042.09,359.04 1044.52,359.83 1046.2,360.58 C1047.88,361.32 1049.69,362.23 1051.35,363.21 C1053.02,364.19 1055.38,365.91 1056.19,366.45" style="stroke-width:2.4"/>
<path class="s" d="M1161.01,371.47 C1159.94,370.11 1156.75,365.35 1154.58,363.28 C1152.42,361.21 1150.37,359.84 1148,359.04 C1145.63,358.25 1143.1,357.99 1140.37,358.52 C1137.64,359.06 1134.28,360.8 1131.63,362.25 C1128.98,363.69 1126.15,365.42 1124.45,367.17 C1122.74,368.91 1121.96,370.34 1121.39,372.7 C1120.82,375.05 1120.55,378.04 1121.02,381.3 C1121.49,384.55 1123.69,390.42 1124.23,392.24"/>
<g clip-path="url(#cp6)">
<path class="s" d="M1120.18,385.34 A98.6,98.6 0 0 0 1158.6,363.16"/>
<path class="s" d="M1118.72,380.56 A93.6,93.6 0 0 0 1155.19,359.5"/>
<path class="s" d="M1117.34,376.07 A88.9,88.9 0 0 0 1151.98,356.07"/>
</g>
<path class="k" d="M1141.43,358.73 C1140.61,359.04 1138.18,359.83 1136.5,360.58 C1134.82,361.32 1133.01,362.23 1131.35,363.21 C1129.68,364.19 1127.32,365.91 1126.51,366.45" style="stroke-width:2.4"/>
<path class="s" d="M987.22,311.67 A21.6,20.6 180 0 0 987.22,270.43"/>
<g clip-path="url(#cp7)">
<path class="s" d="M996.45,312.96 A97.4,97.4 0 0 1 996.45,269.14"/>
<path class="s" d="M1002.29,311.61 A91.4,91.4 0 0 1 1002.29,270.49"/>
<path class="s" d="M1006.97,310.53 A86.6,86.6 0 0 1 1006.97,271.57"/>
</g>
<path class="k" d="M1006.73,299.05 Q1009.35,291.05 1006.73,283.05" style="stroke-width:2.0"/>
<path class="s" d="M1010.93,221.39 C1012.29,222.46 1017.05,225.65 1019.12,227.82 C1021.19,229.98 1022.56,232.03 1023.36,234.4 C1024.15,236.77 1024.41,239.3 1023.88,242.03 C1023.34,244.76 1021.6,248.12 1020.15,250.77 C1018.71,253.42 1016.98,256.25 1015.23,257.95 C1013.49,259.66 1012.06,260.44 1009.7,261.01 C1007.35,261.58 1004.36,261.85 1001.1,261.38 C997.85,260.91 991.98,258.71 990.16,258.17"/>
<g clip-path="url(#cp8)">
<path class="s" d="M997.06,262.22 A98.6,98.6 0 0 1 1019.24,223.8"/>
<path class="s" d="M1001.84,263.68 A93.6,93.6 0 0 1 1022.9,227.21"/>
<path class="s" d="M1006.33,265.06 A88.9,88.9 0 0 1 1026.33,230.42"/>
</g>
<path class="k" d="M1023.67,240.97 C1023.36,241.79 1022.57,244.22 1021.82,245.9 C1021.08,247.58 1020.17,249.39 1019.19,251.05 C1018.21,252.72 1016.49,255.08 1015.95,255.89" style="stroke-width:2.4"/>
<path class="s" d="M1010.93,360.71 C1012.29,359.64 1017.05,356.45 1019.12,354.28 C1021.19,352.12 1022.56,350.07 1023.36,347.7 C1024.15,345.33 1024.41,342.8 1023.88,340.07 C1023.34,337.34 1021.6,333.98 1020.15,331.33 C1018.71,328.68 1016.98,325.85 1015.23,324.15 C1013.49,322.44 1012.06,321.66 1009.7,321.09 C1007.35,320.52 1004.36,320.25 1001.1,320.72 C997.85,321.19 991.98,323.39 990.16,323.93"/>
<g clip-path="url(#cp9)">
<path class="s" d="M997.06,319.88 A98.6,98.6 0 0 0 1019.24,358.3"/>
<path class="s" d="M1001.84,318.42 A93.6,93.6 0 0 0 1022.9,354.89"/>
<path class="s" d="M1006.33,317.04 A88.9,88.9 0 0 0 1026.33,351.68"/>
</g>
<path class="k" d="M1023.67,341.13 C1023.36,340.31 1022.57,337.88 1021.82,336.2 C1021.08,334.52 1020.17,332.71 1019.19,331.05 C1018.21,329.38 1016.49,327.02 1015.95,326.21" style="stroke-width:2.4"/>
</g>
<g id="dims">
<line class="d" x1="274.5" y1="77.4" x2="274.5" y2="264"/>
<line class="d" x1="879.4" y1="77.6" x2="879.4" y2="256.2"/>
<line class="d" x1="275.5" y1="87.2" x2="878.3" y2="87.2"/>
<polygon class="a" points="275.4,87.2 293.8,83.8 293.8,90.6"/>
<polygon class="a" points="878.6,87.2 860.2,90.6 860.2,83.8"/>
<line class="d" x1="431.3" y1="126.4" x2="431.3" y2="204.4"/>
<line class="d" x1="432.3" y1="137" x2="878.3" y2="137"/>
<polygon class="a" points="432.2,137 450.6,133.6 450.6,140.4"/>
<polygon class="a" points="878.6,137 860.2,140.4 860.2,133.6"/>
<text x="563.6" y="82.3" textLength="26" lengthAdjust="spacing">81</text>
<text x="641.6" y="131.8" textLength="26" lengthAdjust="spacing">60</text>
<line class="d" x1="831.6" y1="184.6" x2="929.6" y2="184.6"/>
<line class="d" x1="831" y1="397.9" x2="929.6" y2="397.9"/>
<line class="d" x1="919.5" y1="185.6" x2="919.5" y2="396.9"/>
<polygon class="a" points="919.5,185.3 922.9,203.7 916.1,203.7"/>
<polygon class="a" points="919.5,397.2 916.1,378.8 922.9,378.8"/>
<g transform="translate(924.6,260.2) rotate(90)">
<ellipse cx="3.9" cy="-8.7" rx="5.2" ry="5.3" fill="none" stroke="#222" stroke-width="2.3"/><line x1="1.9" y1="0.69" x2="5.9" y2="-18.09" stroke="#222" stroke-width="1.95"/>
<text x="13.2 26.2 40.6 52.2" y="0">28.5</text>
</g>
<line class="d" x1="1041.43" y1="210.22" x2="1182.57" y2="438.75"/>
<polygon class="a" points="1059.3,239.15 1047.03,225.57 1052.65,222.1"/>
<polygon class="a" points="1123.4,342.95 1135.67,356.53 1130.05,360"/>
<g transform="translate(1091.35,291.05) rotate(58.3)">
<ellipse cx="131.4" cy="-15.8" rx="6.5" ry="8.7" fill="none" stroke="#222" stroke-width="2.3"/><line x1="123.2" y1="-6.4" x2="139.6" y2="-25.0" stroke="#222" stroke-width="1.7"/>
<text x="142.6 155.6" y="-6.8">16</text>
</g>
<line class="d" x1="1088.4" y1="362.4" x2="1059" y2="478.9"/>
<polygon class="a" points="1088.4,362.4 1087.54,377.65 1081.92,376.23"/>
<g transform="translate(1088.4,362.4) rotate(104.16)">
<text x="37" y="-3.8">4</text>
<line x1="51.6" y1="-12.6" x2="61.6" y2="-12.6" stroke="#222" stroke-width="1.5"/>
<text transform="translate(63.6,-3.8) scale(0.52,1)" x="0" y="0">M</text>
<text x="76 88.5 102" y="-3.8">2.5</text>
</g>
</g>
</g>
</svg>
</body>
</html>
